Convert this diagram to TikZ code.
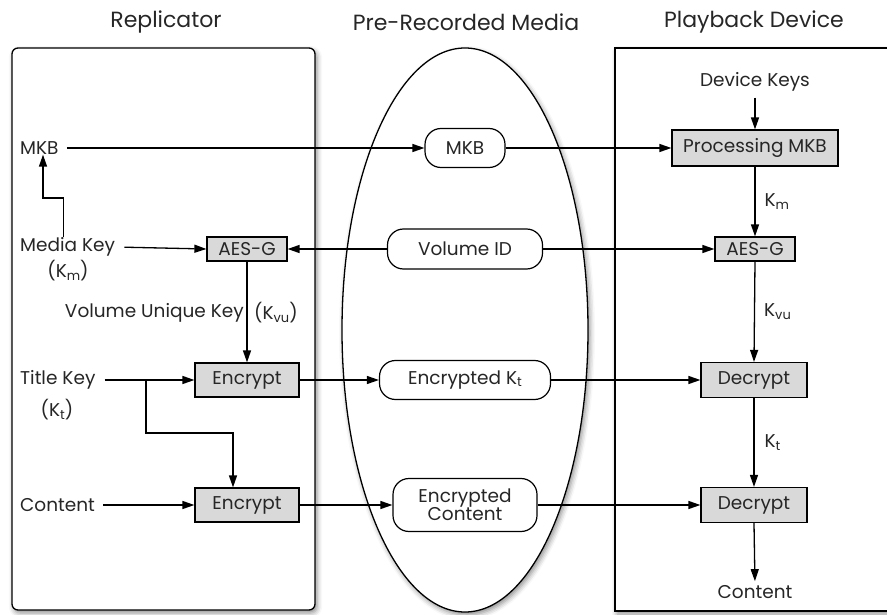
\documentclass[tikz,border=0pt]{standalone}
\usepackage{fontspec}
\setmainfont{Poppins}
\usetikzlibrary{arrows.meta,shadows.blur}

\newcommand{\sub}[1]{\raisebox{-0.25ex}{\fontsize{13}{14}\selectfont #1}}

\tikzset{
  every node/.style={font=\fontsize{18.5}{21}\selectfont, text=black!85},
  heading/.style={font=\fontsize{22}{26}\selectfont},
  frame/.style={draw=black, line width=1.3pt, fill=white,
    blur shadow={shadow xshift=2pt, shadow yshift=-3pt, shadow blur radius=5pt, shadow opacity=45}},
  txt/.style={inner sep=0pt},
  proc/.style={draw=black, line width=1.2pt, fill=black!15, inner sep=0pt},
  pill/.style={draw=black, line width=1.2pt, fill=white, rounded corners=16pt, inner sep=0pt, align=center},
  conn/.style={draw=black, line width=1.3pt},
  arr/.style={conn, -{Triangle[length=12pt, width=8pt]}},
}

\begin{document}
\begin{tikzpicture}[x=1pt, y=-1pt]
  \useasboundingbox (0,0) rectangle (887,615);
  \clip (0,0) rectangle (887,615);

  % column titles
  \node[heading] (tRep) at (166,22) {Replicator};
  \node[heading] (tMed) at (466,22) {Pre-Recorded Media};
  \node[heading] (tDev) at (754,22) {Playback Device};

  % three regions
  \path[frame, rounded corners=6pt] (12,48) rectangle (315,610);
  \path[frame] (465,330) ellipse [x radius=123, y radius=282];
  \path[frame] (615,48) rectangle (905,611);

  % replicator side
  \node[txt, anchor=west] (mkbL) at (20,148) {MKB};
  \node[txt, anchor=west] (mkey) at (20,247) {Media Key};
  \node[txt] (kmL) at (68,271) {(K\sub{m})};
  \node[proc, minimum width=80pt, minimum height=24pt] (aesL) at (247,249) {AES-G};
  \node[txt, anchor=east] (vuk) at (244,313) {Volume Unique Key};
  \node[txt, anchor=west] (kvuL) at (254,313) {(K\sub{vu})};
  \node[txt, anchor=west] (tkey) at (20,380) {Title Key};
  \node[txt] (ktL) at (57,410) {(K\sub{t})};
  \node[txt, anchor=west] (contL) at (20,505) {Content};
  \node[proc, minimum width=104pt, minimum height=34pt] (enc1) at (247,380) {Encrypt};
  \node[proc, minimum width=104pt, minimum height=34pt] (enc2) at (247,505) {Encrypt};

  % media
  \node[pill, minimum width=80pt, minimum height=39pt] (mkbM) at (465,148) {MKB};
  \node[pill, minimum width=155pt, minimum height=40pt] (vid) at (465,249) {Volume ID};
  \node[pill, minimum width=171pt, minimum height=39pt] (ekt) at (465,380) {Encrypted K\sub{t}};
  \node[pill, minimum width=144pt, minimum height=53pt, font=\fontsize{18.5}{18}\selectfont] (ect) at (465,505) {Encrypted\\Content};

  % playback device
  \node[txt] (dkeys) at (755,82) {Device Keys};
  \node[proc, minimum width=166pt, minimum height=36pt] (pmkb) at (755,148) {Processing MKB};
  \node[proc, minimum width=80pt, minimum height=24pt] (aesR) at (755,249) {AES-G};
  \node[proc, minimum width=106pt, minimum height=35pt] (dec1) at (754,380) {Decrypt};
  \node[proc, minimum width=106pt, minimum height=35pt] (dec2) at (754,505) {Decrypt};
  \node[txt] (contR) at (755,592) {Content};

  % connectors: replicator
  \draw[arr, shorten <=8pt] (mkbL.east) -- (mkbM.west);
  \coordinate (mbend) at (43,198);
  \draw[arr] ([xshift=-4pt]mkey.north) |- (mbend) -- (mkbL.south -| mbend);
  \draw[arr, shorten <=9pt] (mkey.east) -- (aesL.west);
  \draw[arr] (vid.west) -- (aesL.east);
  \draw[arr] (aesL.south) -- (enc1.north);
  \draw[arr, shorten <=9pt] (tkey.east) -- (enc1.west);
  \coordinate (split) at (146,380);
  \draw[arr] (split) -- (146,433) -| ([xshift=-14pt]enc2.north);
  \draw[arr, shorten <=8pt] (contL.east) -- (enc2.west);

  % connectors: media to device
  \draw[arr] (enc1.east) -- (ekt.west);
  \draw[arr] (enc2.east) -- (ect.west);
  \draw[arr] (mkbM.east) -- (pmkb.west);
  \draw[arr] (vid.east) -- (aesR.west);
  \draw[arr] (ekt.east) -- (dec1.west);
  \draw[arr] (ect.east) -- (dec2.west);

  % connectors: playback device
  \draw[arr, shorten <=6pt] (dkeys.south) -- (pmkb.north);
  \draw[arr] (pmkb.south) -- node[txt, anchor=west, xshift=9pt] (kmR) {K\sub{m}} (aesR.north);
  \draw[arr] (aesR.south) -- node[txt, anchor=west, xshift=9pt] (kvuR) {K\sub{vu}} (dec1.north);
  \draw[arr] (dec1.south) -- node[txt, anchor=west, xshift=10pt] (ktR) {K\sub{t}} (dec2.north);
  \draw[arr, shorten >=4pt] (dec2.south) -- (contR.north);
\end{tikzpicture}
\end{document}
